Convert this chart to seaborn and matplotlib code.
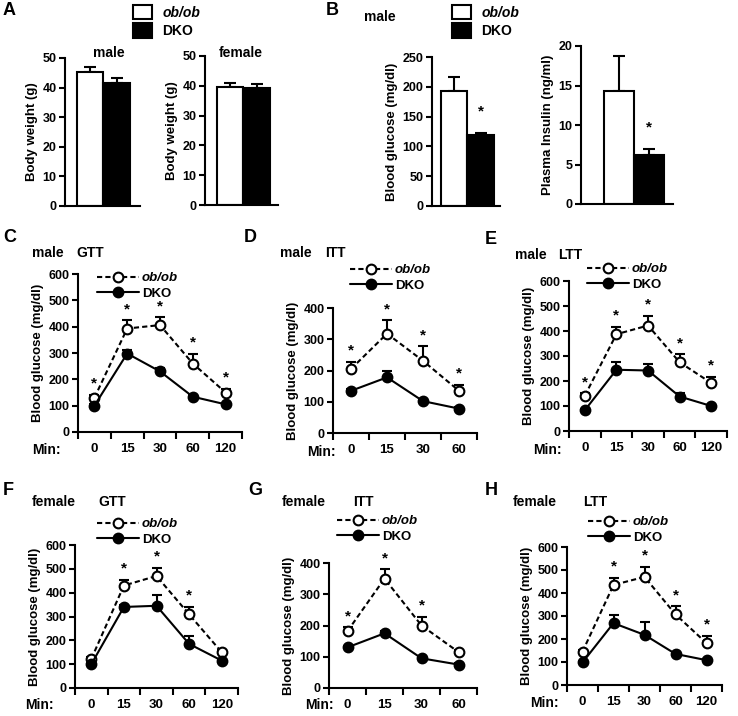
import numpy as np
import matplotlib
matplotlib.use('Agg')
import matplotlib.pyplot as plt
import seaborn as sns
from matplotlib.patches import Patch

# ------------------------------------------------------------------
# data
# ------------------------------------------------------------------
groups = ['ob/ob', 'DKO']

bw_male = [45.4, 41.6]
bw_male_err = [1.7, 1.6]
bw_female = [39.6, 39.3]
bw_female_err = [1.3, 1.3]

glucose = [193, 119]
glucose_err = [23, 4]
insulin = [14.3, 6.2]
insulin_err = [4.4, 0.8]

min5 = ['0', '15', '30', '60', '120']
min4 = ['0', '15', '30', '60']

c_ob = [130, 393, 406, 260, 150]
c_ob_err = [12, 32, 30, 38, 15]
c_dko = [100, 298, 230, 134, 105]
c_dko_err = [8, 12, 12, 8, 6]
c_sig = [1, 1, 1, 1, 1]

d_ob = [205, 318, 231, 135]
d_ob_err = [22, 43, 46, 20]
d_dko = [135, 178, 102, 78]
d_dko_err = [6, 20, 6, 5]
d_sig = [1, 1, 1, 1]

e_ob = [141, 387, 422, 275, 192]
e_ob_err = [10, 30, 40, 32, 25]
e_dko = [83, 245, 242, 138, 100]
e_dko_err = [6, 33, 28, 14, 6]
e_sig = [1, 1, 1, 1, 1]

f_ob = [122, 430, 470, 309, 150]
f_ob_err = [8, 23, 35, 31, 10]
f_dko = [100, 340, 345, 185, 115]
f_dko_err = [6, 10, 44, 32, 8]
f_sig = [0, 1, 1, 1, 0]

g_ob = [182, 350, 200, 115]
g_ob_err = [12, 30, 28, 8]
g_dko = [130, 175, 95, 75]
g_dko_err = [5, 6, 6, 5]
g_sig = [1, 1, 1, 0]

h_ob = [145, 435, 470, 307, 182]
h_ob_err = [8, 30, 44, 35, 32]
h_dko = [98, 269, 218, 135, 108]
h_dko_err = [6, 36, 55, 8, 5]
h_sig = [0, 1, 1, 1, 1]

# ------------------------------------------------------------------
sns.set_style('ticks')
plt.rcParams['font.family'] = ['Liberation Sans', 'DejaVu Sans']
plt.rcParams['font.weight'] = 'bold'
plt.rcParams['axes.labelweight'] = 'bold'
plt.rcParams['axes.linewidth'] = 1.5
plt.rcParams['xtick.major.width'] = 1.5
plt.rcParams['ytick.major.width'] = 1.5
plt.rcParams['xtick.minor.width'] = 1.5
plt.rcParams['ytick.major.size'] = 4
plt.rcParams['xtick.color'] = 'black'
plt.rcParams['ytick.color'] = 'black'
plt.rcParams['axes.edgecolor'] = 'black'
plt.rcParams['text.color'] = 'black'
plt.rcParams['axes.labelcolor'] = 'black'

W, H = 738, 716
fig = plt.figure(figsize=(W / 100, H / 100), dpi=100)


def frame(x0, y0, x1, y1):
    return [x0 / W, 1 - y1 / H, (x1 - x0) / W, (y1 - y0) / H]


def ftxt(x, y, s, **kw):
    fig.text(x / W, 1 - y / H, s, **kw)


def style_axis(ax, ylim, step, ylabel):
    ax.set_ylim(0, ylim)
    ax.set_yticks(np.arange(0, ylim + step / 2, step))
    ax.tick_params(axis='y', labelsize=9, length=4, pad=2)
    ax.set_ylabel(ylabel, fontsize=9.5, labelpad=3)
    sns.despine(ax=ax)


def bar_panel(box, vals, errs, ylim, step, ylabel, xlim, star=False):
    ax = fig.add_axes(frame(*box))
    sns.barplot(x=groups, y=vals, hue=groups, palette={'ob/ob': 'white', 'DKO': 'black'},
                edgecolor='black', linewidth=1.5, width=1.0, legend=False, ax=ax, zorder=2)
    ax.errorbar([0, 1], vals, yerr=[np.zeros(2), errs], fmt='none', ecolor='black',
                elinewidth=1.5, capsize=4, capthick=1.5, zorder=1)
    ax.set_xlim(*xlim)
    ax.set_xticks([])
    ax.set_xlabel('')
    style_axis(ax, ylim, step, ylabel)
    if star:
        ax.annotate('*', xy=(1, vals[1] + errs[1]), xytext=(0, 15), textcoords='offset points',
                    ha='center', va='center', fontsize=11)
    return ax


def line_panel(box, labels, ob, ob_err, dko, dko_err, sig, ylim, leg_xy):
    ax = fig.add_axes(frame(*box))
    pos = np.arange(len(labels))
    ax.errorbar(pos, ob, yerr=[np.zeros(len(pos)), ob_err], fmt='none', ecolor='black',
                elinewidth=1.5, capsize=3.5, capthick=1.5, zorder=1)
    ax.errorbar(pos, dko, yerr=[np.zeros(len(pos)), dko_err], fmt='none', ecolor='black',
                elinewidth=1.5, capsize=3.5, capthick=1.5, zorder=1)
    sns.lineplot(x=pos, y=ob, ax=ax, color='black', linestyle=(0, (2.5, 1.5)), linewidth=1.5,
                 marker='o', markersize=7, markerfacecolor='white', markeredgecolor='black',
                 markeredgewidth=1.5, label='ob/ob', legend=False, zorder=3)
    sns.lineplot(x=pos, y=dko, ax=ax, color='black', linewidth=1.5,
                 marker='o', markersize=7, markerfacecolor='black', markeredgecolor='black',
                 markeredgewidth=1.5, label='DKO', legend=False, zorder=3)
    for i, s in enumerate(sig):
        if s:
            ax.annotate('*', xy=(pos[i], ob[i] + ob_err[i]), xytext=(0, 8), textcoords='offset points',
                        ha='center', va='center', fontsize=11)
    ax.set_xlim(-0.5, len(labels) - 0.5)
    ax.set_xticks(np.arange(-0.5, len(labels)), labels=[''] * (len(labels) + 1))
    ax.tick_params(axis='x', which='major', length=5, direction='out')
    ax.set_xticks(pos, labels=labels, minor=True)
    ax.tick_params(axis='x', which='minor', length=0, pad=8, labelsize=9.5)
    style_axis(ax, ylim, 100, 'Blood glucose (mg/dl)')
    handles, names = ax.get_legend_handles_labels()
    leg = ax.legend(handles, names, loc='upper left', bbox_to_anchor=(leg_xy[0] / W, 1 - leg_xy[1] / H),
                    bbox_transform=fig.transFigure, frameon=False, fontsize=9.5, handlelength=3.2,
                    handletextpad=0.2, labelspacing=0.25, borderpad=0, borderaxespad=0)
    leg.get_texts()[0].set_style('italic')
    return ax


# A: body weight
bar_panel((65, 58, 140, 206), bw_male, bw_male_err, 50, 10, 'Body weight (g)', (-0.95, 1.88))
bar_panel((205, 56, 278, 205), bw_female, bw_female_err, 50, 10, 'Body weight (g)', (-0.95, 1.8))
ftxt(109, 53, 'male', ha='center', va='center', fontsize=10)
ftxt(241, 53, 'female', ha='center', va='center', fontsize=10)

# B: fasting glucose / insulin
bar_panel((432, 57, 500, 206), glucose, glucose_err, 250, 50, 'Blood glucose (mg/dl)', (-0.83, 1.72), star=True)
bar_panel((581, 46, 673, 204), insulin, insulin_err, 20, 5, 'Plasma Insulin (ng/ml)', (-1.27, 1.8), star=True)
ftxt(380, 17, 'male', ha='center', va='center', fontsize=10)

for lx in (133, 452):
    leg = fig.legend([Patch(facecolor='white', edgecolor='black', linewidth=1.5),
                      Patch(facecolor='black', edgecolor='black', linewidth=1.5)], groups,
                     loc='upper left', bbox_to_anchor=(lx / W, 1 - 5 / H), frameon=False,
                     fontsize=10, handlelength=1.4, handleheight=1.2, handletextpad=0.7,
                     labelspacing=0.25, borderpad=0, borderaxespad=0)
    leg.get_texts()[0].set_style('italic')

# C-H: tolerance tests
line_panel((78, 274, 242, 432), min5, c_ob, c_ob_err, c_dko, c_dko_err, c_sig, 600, (97, 272))
line_panel((333, 308, 477, 433), min4, d_ob, d_ob_err, d_dko, d_dko_err, d_sig, 400, (350, 264))
line_panel((569, 281, 727, 431), min5, e_ob, e_ob_err, e_dko, e_dko_err, e_sig, 600, (587, 263))
line_panel((75, 545, 238, 688), min5, f_ob, f_ob_err, f_dko, f_dko_err, f_sig, 600, (97, 518))
line_panel((329, 563, 477, 688), min4, g_ob, g_ob_err, g_dko, g_dko_err, g_sig, 400, (337, 515))
line_panel((567, 547, 722, 685), min5, h_ob, h_ob_err, h_dko, h_dko_err, h_sig, 600, (588, 516))

# panel captions
for x, y, s in [(32, 253, 'male'), (76, 253, 'GTT'), (280, 253, 'male'), (325, 253, 'ITT'),
                (515, 255, 'male'), (558, 255, 'LTT'), (32, 502, 'female'), (98, 502, 'GTT'),
                (282, 502, 'female'), (353, 502, 'ITT'), (513, 502, 'female'), (583, 502, 'LTT')]:
    ftxt(x, y, s, ha='left', va='center', fontsize=10)

for x, y in [(32, 450), (307, 452), (533, 450), (25, 705), (305, 705), (530, 703)]:
    ftxt(x, y, 'Min:', ha='left', va='center', fontsize=10)

for x, y, s in [(3, 2, 'A'), (326, 2, 'B'), (3, 229, 'C'), (244, 229, 'D'), (485, 231, 'E'),
                (3, 482, 'F'), (248, 482, 'G'), (485, 482, 'H')]:
    ftxt(x, y, s, ha='left', va='top', fontsize=13)

fig.savefig('out.png', dpi=100)
